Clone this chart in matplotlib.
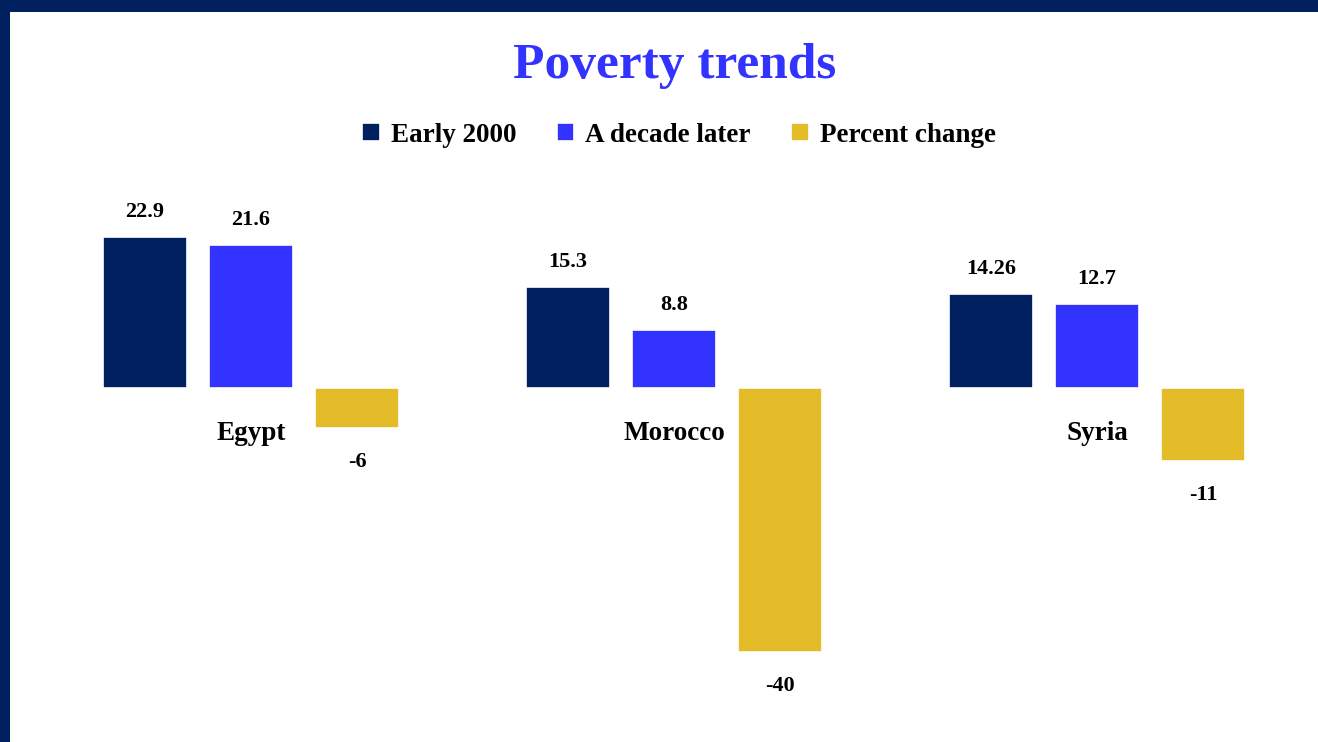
import matplotlib.pyplot as plt
from matplotlib.patches import Rectangle

# datos
paises = ['Egypt', 'Morocco', 'Syria']
early_2000 = [22.9, 15.3, 14.26]
decade_later = [21.6, 8.8, 12.7]
percent_change = [-6, -40, -11]
etiquetas_early = ['22.9', '15.3', '14.26']
etiquetas_later = ['21.6', '8.8', '12.7']
etiquetas_change = ['-6', '-40', '-11']

navy = '#002060'
azul = '#3333FF'
oro = '#E4BC2A'

plt.rcParams['font.family'] = ['Liberation Serif', 'DejaVu Serif']

fig = plt.figure(figsize=(13.18, 7.42), dpi=100)
fig.patch.set_facecolor('white')

# marco azul oscuro (arriba e izquierda)
fig.patches.append(Rectangle((0, 1 - 12 / 742), 1, 12 / 742, transform=fig.transFigure,
                             facecolor=navy, edgecolor='none', zorder=0))
fig.patches.append(Rectangle((0, 0), 10 / 1318, 1, transform=fig.transFigure,
                             facecolor=navy, edgecolor='none', zorder=0))

ax = fig.add_axes([39.5 / 1318, 1 - 685 / 742, 1269 / 1318, (685 - 190) / 742])
ax.set_facecolor('none')

x = list(range(len(paises)))
ancho = 0.2
desp = 0.2506

b1 = ax.bar([i - desp for i in x], early_2000, ancho, color=navy, edgecolor='white',
            linewidth=1.2, label='Early 2000')
b2 = ax.bar(x, decade_later, ancho, color=azul, edgecolor='white', linewidth=1.2,
            label='A decade later')
b3 = ax.bar([i + desp for i in x], percent_change, ancho, color=oro, edgecolor='white',
            linewidth=1.2, label='Percent change')

for barras, textos in [(b1, etiquetas_early), (b2, etiquetas_later)]:
    for b, t in zip(barras, textos):
        ax.annotate(t, (b.get_x() + b.get_width() / 2, b.get_height()),
                    xytext=(0, 18), textcoords='offset points', ha='center', va='center',
                    fontsize=16, fontweight='bold', color='black')
for b, t in zip(b3, etiquetas_change):
    ax.annotate(t, (b.get_x() + b.get_width() / 2, b.get_height()),
                xytext=(0, -24.5), textcoords='offset points', ha='center', va='center',
                fontsize=16, fontweight='bold', color='black')

# nombres de países bajo el eje
for i, p in zip(x, paises):
    ax.text(i, -6.9, p, ha='center', va='center', fontsize=19.5, fontweight='bold',
            color='black')

ax.set_xlim(-0.5, 2.5)
ax.set_ylim(-45, 30)
ax.axis('off')

fig.text(675 / 1318, 1 - 66 / 742, 'Poverty trends', ha='center', va='center',
         fontsize=37, fontweight='bold', color=azul)

fig.legend(handles=[b1, b2, b3], loc='center', bbox_to_anchor=(679 / 1318, 1 - 135 / 742),
           ncol=3, frameon=False, handlelength=0.65, handleheight=0.65, handletextpad=0.4,
           columnspacing=1.5, prop={'size': 19.5, 'weight': 'bold'})

fig.savefig('out.png', dpi=100)
